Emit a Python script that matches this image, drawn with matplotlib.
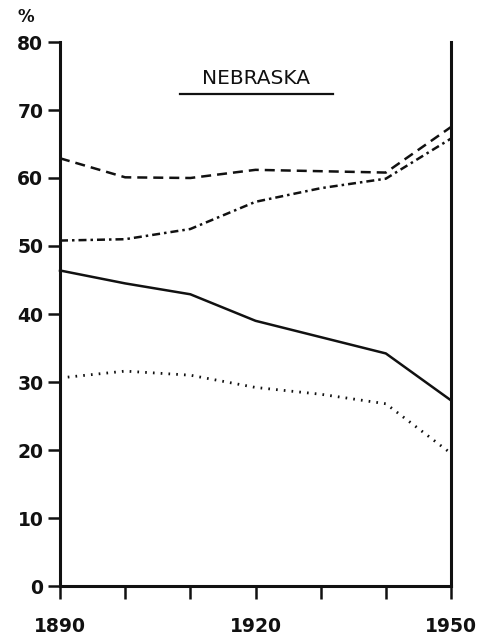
import matplotlib
matplotlib.use("Agg")
import matplotlib.pyplot as plt
from matplotlib.lines import Line2D

# Census years and the four percentage series
years = [1890, 1900, 1910, 1920, 1930, 1940, 1950]
dashed_series = [62.9, 60.1, 60.0, 61.2, 61.0, 60.8, 67.5]
dashdot_series = [50.8, 51.0, 52.5, 56.5, 58.5, 59.9, 65.8]
solid_series = [46.4, 44.5, 42.9, 39.0, 36.6, 34.2, 27.3]
dotted_series = [30.6, 31.6, 31.0, 29.2, 28.2, 26.8, 19.5]

y_ticks = [0, 10, 20, 30, 40, 50, 60, 70, 80]
x_ticks = [1890, 1900, 1910, 1920, 1930, 1940, 1950]
x_labels = ["1890", "", "", "1920", "", "", "1950"]
title = "NEBRASKA"

ink = "#111111"
fig = plt.figure(figsize=(4.84, 6.41), dpi=100)
ax = fig.add_axes([60 / 484, 1 - 586 / 641, 391 / 484, 544 / 641])

lw = 1.8
ax.plot(years, dashed_series, color=ink, lw=lw, dashes=(4.0, 2.4), clip_on=False)
ax.plot(years, dashdot_series, color=ink, lw=lw, dashes=(3.2, 1.6, 1.0, 1.6), clip_on=False)
ax.plot(years, solid_series, color=ink, lw=lw, clip_on=False)
ax.plot(years, dotted_series, color=ink, lw=2.0, dashes=(0.6, 2.2), clip_on=False)

ax.set_xlim(1890, 1950)
ax.set_ylim(0, 80)
ax.spines["top"].set_visible(False)
for side in ("left", "bottom", "right"):
    ax.spines[side].set_linewidth(2.2)
    ax.spines[side].set_color(ink)

ax.set_yticks(y_ticks)
ax.set_yticklabels([str(v) for v in y_ticks])
ax.set_xticks(x_ticks)
ax.set_xticklabels(x_labels)
ax.tick_params(axis="y", direction="out", length=9, width=1.8, pad=3,
               labelsize=13.5, colors=ink)
ax.tick_params(axis="x", direction="out", length=9, width=1.8, pad=13,
               labelsize=13.5, colors=ink)
for lab in ax.get_xticklabels() + ax.get_yticklabels():
    lab.set_fontweight("bold")

ax.text(1920, 74.6, title, ha="center", va="center", fontsize=14.5,
        color=ink, fontfamily="DejaVu Sans")
ax.add_line(Line2D([1908.4, 1931.9], [72.4, 72.4], color=ink, lw=1.6, clip_on=False))

fig.text(0.054, 0.973, "%", ha="center", va="center", fontsize=12,
         fontweight="bold", color=ink)

fig.savefig("out.png", dpi=100, facecolor="white")
